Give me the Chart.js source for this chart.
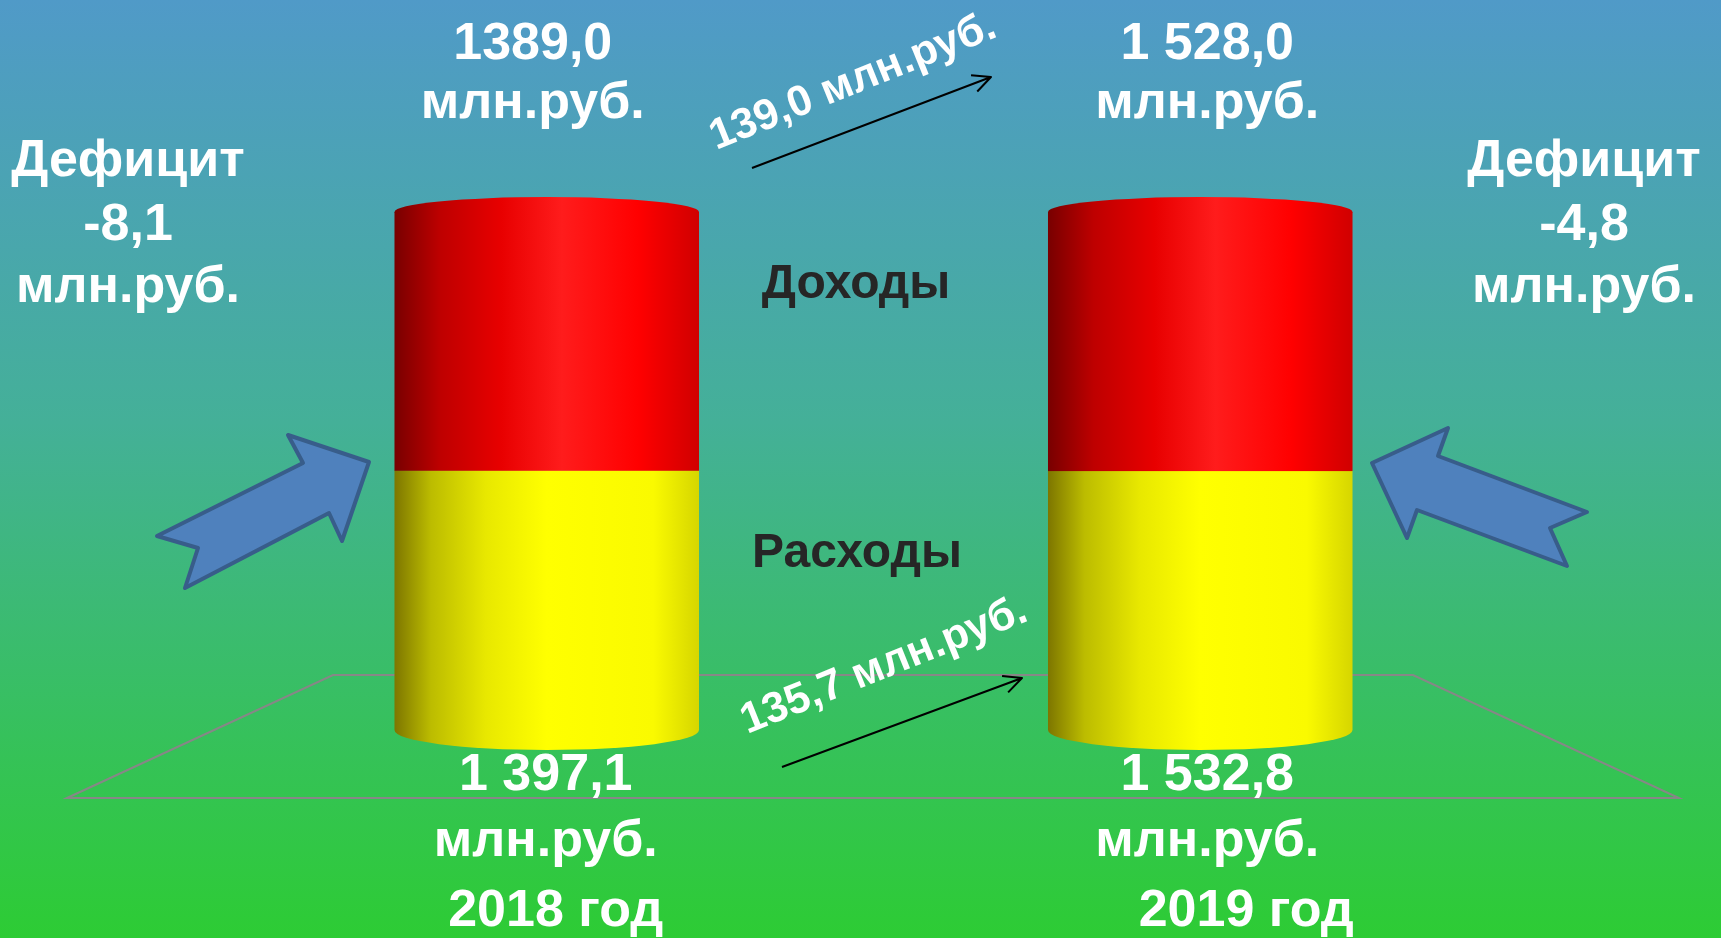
<!DOCTYPE html>
<html>
<head>
<meta charset="utf-8">
<script src="https://cdn.jsdelivr.net/npm/chart.js@4.4.1/dist/chart.umd.min.js"></script>
<style>
  html, body { margin: 0; padding: 0; overflow: hidden; }
  #wrap { width: 1721px; height: 938px; position: relative; }
</style>
</head>
<body>
<div id="wrap"><canvas id="cChart"></canvas></div>
<script>
// данные
const years = ['2018 год', '2019 год'];
const dohody = [1389.0, 1528.0];
const rashody = [1397.1, 1532.8];
const dohodyLabels = ['1389,0', '1 528,0'];
const rashodyLabels = ['1 397,1', '1 532,8'];
const deficitLabels = ['-8,1', '-4,8'];
const growthLabels = ['139,0 млн.руб.', '135,7 млн.руб.'];
const unit = 'млн.руб.';

// доля в общем столбце (оба цилиндра одной высоты, как на слайде)
const share = (a, b) => a.map((v, i) => v / (v + b[i]) * 100);

const FONT = '"Liberation Sans", Arial, sans-serif';

function txt(ctx, s, x, y, size, color) {
  ctx.font = 'bold ' + size + 'px ' + FONT;
  ctx.fillStyle = color;
  ctx.textAlign = 'center';
  ctx.textBaseline = 'middle';
  ctx.fillText(s, x, y);
}

function gradX(ctx, x, w, stops) {
  const g = ctx.createLinearGradient(x - w / 2, 0, x + w / 2, 0);
  stops.forEach(s => g.addColorStop(s[0], s[1]));
  return g;
}

const yellowStops = [[0, 'rgb(125,118,0)'], [0.12, 'rgb(188,188,0)'], [0.3, 'rgb(232,232,0)'], [0.5, 'rgb(255,255,0)'], [0.85, 'rgb(250,250,0)'], [1, 'rgb(214,214,0)']];
const redStops = [[0, 'rgb(120,0,0)'], [0.15, 'rgb(190,0,0)'], [0.35, 'rgb(232,0,0)'], [0.55, 'rgb(255,28,28)'], [0.8, 'rgb(255,0,0)'], [1, 'rgb(208,0,0)']];

function blockArrow(ctx, pts) {
  ctx.beginPath();
  ctx.moveTo(pts[0][0], pts[0][1]);
  for (let i = 1; i < pts.length; i++) ctx.lineTo(pts[i][0], pts[i][1]);
  ctx.closePath();
  ctx.fillStyle = 'rgb(79,129,189)';
  ctx.fill();
  ctx.lineWidth = 4;
  ctx.lineJoin = 'round';
  ctx.strokeStyle = 'rgb(56,93,138)';
  ctx.stroke();
}

function lineArrow(ctx, x1, y1, x2, y2) {
  const a = Math.atan2(y2 - y1, x2 - x1);
  ctx.strokeStyle = '#000';
  ctx.lineWidth = 2;
  ctx.beginPath();
  ctx.moveTo(x1, y1);
  ctx.lineTo(x2, y2);
  ctx.moveTo(x2 - 20 * Math.cos(a - 0.45), y2 - 20 * Math.sin(a - 0.45));
  ctx.lineTo(x2, y2);
  ctx.lineTo(x2 - 20 * Math.cos(a + 0.45), y2 - 20 * Math.sin(a + 0.45));
  ctx.stroke();
}

function rotText(ctx, s, x, y, deg) {
  ctx.save();
  ctx.translate(x, y);
  ctx.rotate(deg * Math.PI / 180);
  txt(ctx, s, 0, 0, 43, '#fff');
  ctx.restore();
}

const slidePlugin = {
  id: 'slide',
  beforeDraw(chart) {
    const ctx = chart.ctx;
    const g = ctx.createLinearGradient(0, 0, 0, chart.height);
    g.addColorStop(0, 'rgb(80,154,200)');
    g.addColorStop(0.45, 'rgb(68,176,152)');
    g.addColorStop(1, 'rgb(45,204,52)');
    ctx.fillStyle = g;
    ctx.fillRect(0, 0, chart.width, chart.height);
    // пол
    ctx.strokeStyle = 'rgb(135,135,135)';
    ctx.lineWidth = 2;
    ctx.beginPath();
    ctx.moveTo(67, 798);
    ctx.lineTo(333, 675);
    ctx.lineTo(1413, 675);
    ctx.lineTo(1679, 798);
    ctx.closePath();
    ctx.stroke();
  },
  afterDatasetsDraw(chart) {
    const ctx = chart.ctx;
    const low = chart.getDatasetMeta(0).data;
    const up = chart.getDatasetMeta(1).data;
    ctx.save();
    low.forEach((el, i) => {
      const w = el.width, x = el.x;
      const yg = gradX(ctx, x, w, yellowStops);
      ctx.fillStyle = yg;
      ctx.beginPath();
      ctx.ellipse(x, el.base, w / 2, 20, 0, 0, Math.PI);
      ctx.fill();
      ctx.fillRect(x - w / 2, el.y, w, el.base - el.y);
      const u = up[i];
      const rg = gradX(ctx, x, w, redStops);
      ctx.fillStyle = rg;
      ctx.fillRect(x - w / 2, u.y, w, u.base - u.y + 0.5);
      ctx.beginPath();
      ctx.ellipse(x, u.y, w / 2, 15, 0, 0, Math.PI * 2);
      ctx.fill();
    });

    // синие стрелки дефицита
    blockArrow(ctx, [[157, 536], [303, 463], [288, 435], [369, 462], [342, 541], [329, 513], [185, 588], [198, 548]]);
    blockArrow(ctx, [[1372, 463], [1448, 428], [1438, 456], [1587, 512], [1550, 528], [1567, 566], [1417, 510], [1407, 538]]);

    // прирост
    lineArrow(ctx, 752, 168, 991, 77);
    lineArrow(ctx, 782, 767, 1022, 678);
    rotText(ctx, growthLabels[0], 853, 82, -22);
    rotText(ctx, growthLabels[1], 884, 666, -22);

    // подписи
    const topDx = [-14, 7], botDx = [-1, 7], yearDx = [9, 46];
    low.forEach((el, i) => {
      txt(ctx, dohodyLabels[i], el.x + topDx[i], 45, 52, '#fff');
      txt(ctx, unit, el.x + topDx[i], 104, 52, '#fff');
      txt(ctx, rashodyLabels[i], el.x + botDx[i], 776, 52, '#fff');
      txt(ctx, unit, el.x + botDx[i], 842, 52, '#fff');
      txt(ctx, years[i], el.x + yearDx[i], 912, 52, '#fff');
    });
    const defX = [128, 1584];
    defX.forEach((x, i) => {
      txt(ctx, 'Дефицит', x, 162, 52, '#fff');
      txt(ctx, deficitLabels[i], x, 226, 52, '#fff');
      txt(ctx, unit, x, 288, 52, '#fff');
    });
    txt(ctx, 'Доходы', 856, 285, 48, 'rgb(38,38,38)');
    txt(ctx, 'Расходы', 857, 554, 48, 'rgb(38,38,38)');
    ctx.restore();
  }
};

const data = {
  labels: years,
  datasets: [{
    label: 'Расходы',
    data: share(rashody, dohody),
    backgroundColor: 'rgba(0,0,0,0)',
    borderWidth: 0,
    stack: 's'
  }, {
    label: 'Доходы',
    data: share(dohody, rashody),
    backgroundColor: 'rgba(0,0,0,0)',
    borderWidth: 0,
    stack: 's'
  }]
};

const config = {
  type: 'bar',
  data: data,
  options: {
    responsive: true,
    maintainAspectRatio: false,
    animation: false,
    categoryPercentage: 0.466,
    barPercentage: 1,
    layout: { padding: { left: 220, right: 194, top: 212, bottom: 208 } },
    plugins: {
      legend: { display: false },
      tooltip: { enabled: false }
    },
    scales: {
      x: { display: false, stacked: true },
      y: { display: false, stacked: true, min: 0, max: 100 }
    }
  },
  plugins: [slidePlugin]
};

var cChart = new Chart(document.getElementById('cChart'), config);
</script>
</body>
</html>
